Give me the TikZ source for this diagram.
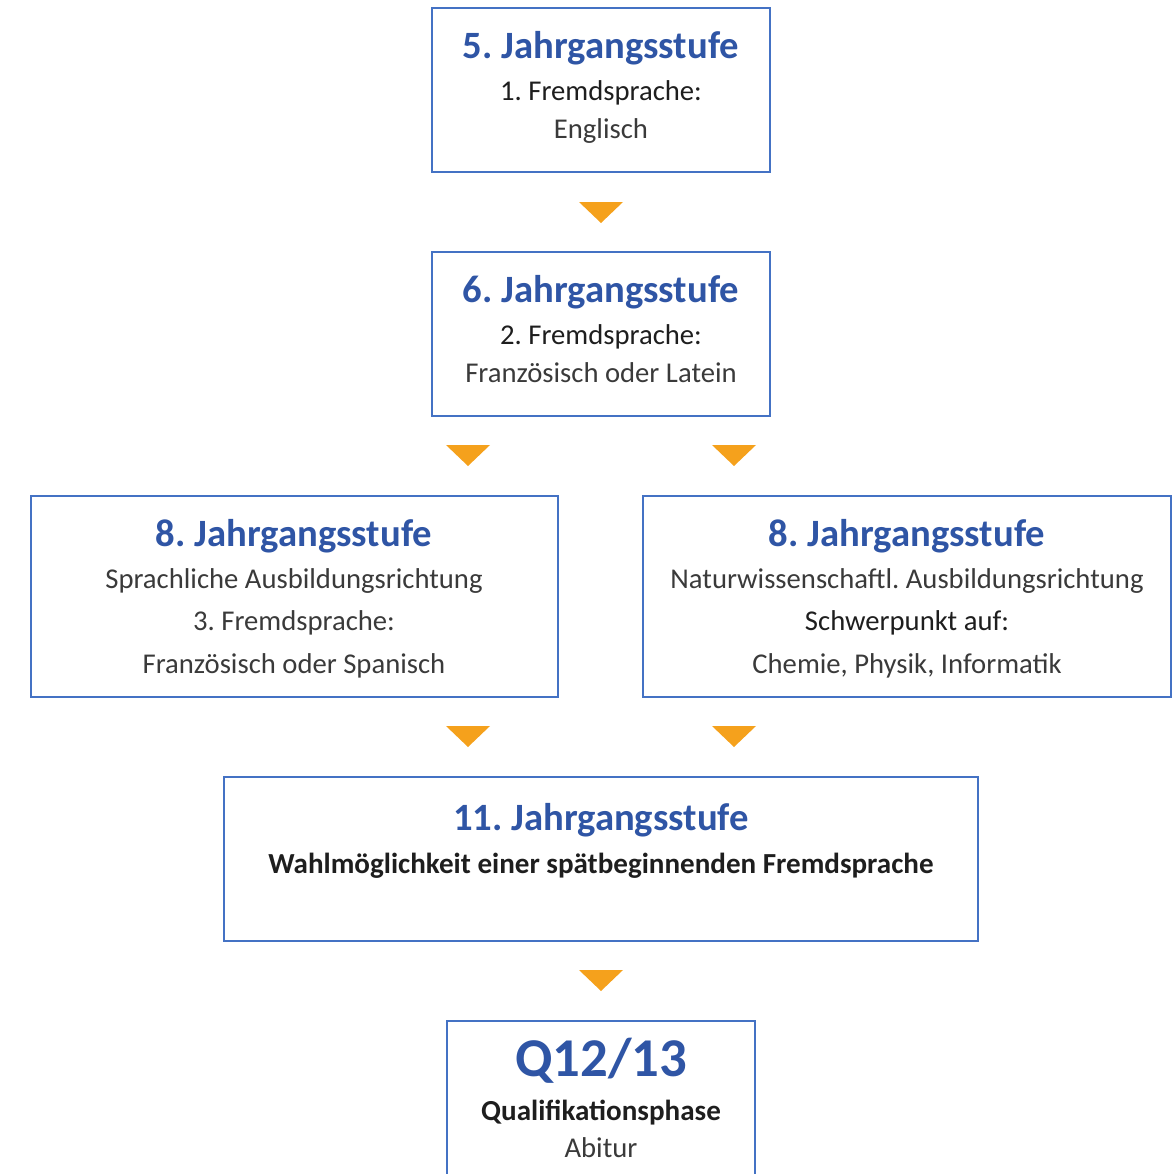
\documentclass[tikz,border=0pt]{standalone}
\usepackage{fontspec}
\setmainfont{Carlito}
\frenchspacing
\usetikzlibrary{fit}
\definecolor{stufeblue}{HTML}{2F55A5}
\definecolor{boxline}{HTML}{4472C4}
\definecolor{markorange}{HTML}{F5A11C}
\definecolor{textdark}{HTML}{1E1E1E}
\definecolor{texthell}{HTML}{3A3A3A}
\tikzset{
  kasten/.style={draw=boxline, line width=1.1pt, inner sep=0pt},
  kopf/.style={anchor=base, text=stufeblue, font=\fontsize{29}{34}\selectfont\bfseries},
  zeile/.style={anchor=base, text=textdark, font=\fontsize{21.5}{26}\selectfont},
  zeilehell/.style={anchor=base, text=texthell, font=\fontsize{21.5}{26}\selectfont},
  fett/.style={anchor=base, text=textdark, font=\fontsize{21.8}{26}\selectfont\bfseries},
  pfeilmarke/.pic={\fill[markorange] (-22,-10) -- (22,-10) -- (0,11) -- cycle;}
}
\begin{document}
\begin{tikzpicture}[x=0.75pt, y=-0.75pt]
            \useasboundingbox (0,0) rectangle (1173,1174);
            \clip (0,0) rectangle (1173,1174);
            % Kaesten
            \node[kasten, fit={(432,8) (770,172)}] (b5) {};
            \node[kasten, fit={(432,252) (770,416)}] (b6) {};
            \node[kasten, fit={(31,496) (558,697)}] (b8s) {};
            \node[kasten, fit={(643,496) (1171,697)}] (b8n) {};
            \node[kasten, fit={(224,777) (978,941)}] (b11) {};
            \node[kasten, fit={(447,1021) (755,1190)}] (bq) {};
            % 5. und 6. Jahrgangsstufe
            \node[kopf] (t5) at (601,58) {5. Jahrgangsstufe};
            \node[zeile] (t5-1) at (601,100) {1. Fremdsprache:};
            \node[zeilehell] (t5-2) at (601,138) {Englisch};
            \node[kopf] (t6) at (601,302) {6. Jahrgangsstufe};
            \node[zeile] (t6-1) at (601,344) {2. Fremdsprache:};
            \node[zeilehell] (t6-2) at (601,382) {Französisch oder Latein};
            % 8. Jahrgangsstufe
            \node[kopf] (t8s) at (294,546) {8. Jahrgangsstufe};
            \node[zeilehell] (t8s-1) at (294,588) {Sprachliche Ausbildungsrichtung};
            \node[zeilehell] (t8s-2) at (294,630) {3. Fremdsprache:};
            \node[zeilehell] (t8s-3) at (294,673) {Französisch oder Spanisch};
            \node[kopf] (t8n) at (907,546) {8. Jahrgangsstufe};
            \node[zeilehell] (t8n-1) at (907,588) {Naturwissenschaftl. Ausbildungsrichtung};
            \node[zeile] (t8n-2) at (907,630) {Schwerpunkt auf:};
            \node[zeilehell] (t8n-3) at (907,673) {Chemie, Physik, Informatik};
            % 11. Jahrgangsstufe
            \node[kopf] (t11) at (601,830) {11. Jahrgangsstufe};
            \node[fett] (t11-1) at (601,873) {Wahlmöglichkeit einer spätbeginnenden Fremdsprache};
            % Q12/13
            \node[kopf, font=\fontsize{41}{48}\selectfont\bfseries] (tq) at (601,1076) {Q12/13};
            \node[fett] (tq-1) at (601,1120) {Qualifikationsphase};
            \node[zeilehell] (tq-2) at (601,1157) {Abitur};
            % Pfeile
            \foreach \x/\y in {601/212, 468/455, 734/455, 468/736, 734/736, 601/980}
                \pic at (\x,\y) {pfeilmarke};
        \end{tikzpicture}
\end{document}
